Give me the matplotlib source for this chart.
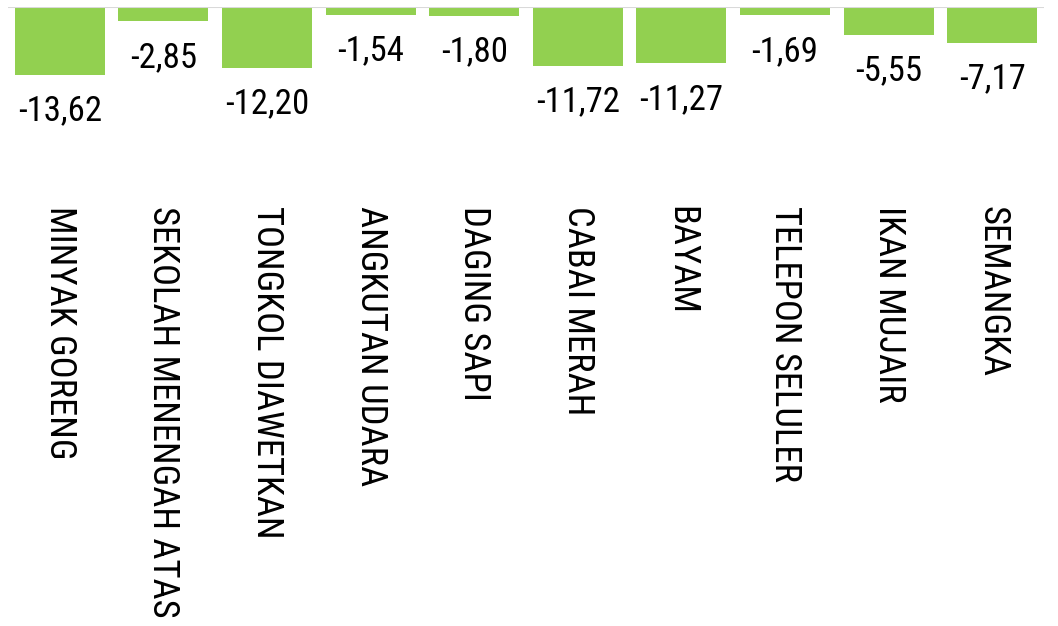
import matplotlib.pyplot as plt
from matplotlib.transforms import blended_transform_factory
from matplotlib import font_manager

categories = ["MINYAK GORENG", "SEKOLAH MENENGAH ATAS", "TONGKOL DIAWETKAN",
              "ANGKUTAN UDARA", "DAGING SAPI", "CABAI MERAH", "BAYAM",
              "TELEPON SELULER", "IKAN MUJAIR", "SEMANGKA"]
values = [-13.62, -2.85, -12.20, -1.54, -1.80, -11.72, -11.27, -1.69, -5.55, -7.17]

# narrow sans like Arial Narrow, falling back to plain Liberation Sans
names = {f.name for f in font_manager.fontManager.ttflist}
fam = "Liberation Sans"
for cand in ["Liberation Sans Narrow", "Arial Narrow", "Roboto Condensed", "Archivo Narrow"]:
    if cand in names:
        fam = cand
        break
plt.rcParams['font.family'] = [fam, 'DejaVu Sans']

W, H = 1058, 626
fig = plt.figure(figsize=(W / 100, H / 100), dpi=100)
ax = fig.add_axes([8 / W, 0, 1036 / W, 1 - 7 / H])

x = range(len(categories))
ax.bar(x, values, width=0.87, color="#92D050", zorder=2)
ax.axhline(0, color="#d9d9d9", lw=1.5, zorder=3)

for i, v in zip(x, values):
    ax.annotate(f"{v:.2f}".replace(".", ","), (i, v), xytext=(0, -14),
                textcoords="offset points", ha="center", va="top",
                fontsize=25, color="black")

trans = blended_transform_factory(ax.transData, fig.transFigure)
for i, c in zip(x, categories):
    ax.text(i, 1 - 206 / H, c, transform=trans, rotation=-90,
            ha="center", va="top", fontsize=26.4, color="black")

ax.set_xlim(-0.5, len(categories) - 0.5)
ax.set_ylim(-619 / 5.0, 0)
ax.axis("off")

fig.savefig("out.png", dpi=100)
